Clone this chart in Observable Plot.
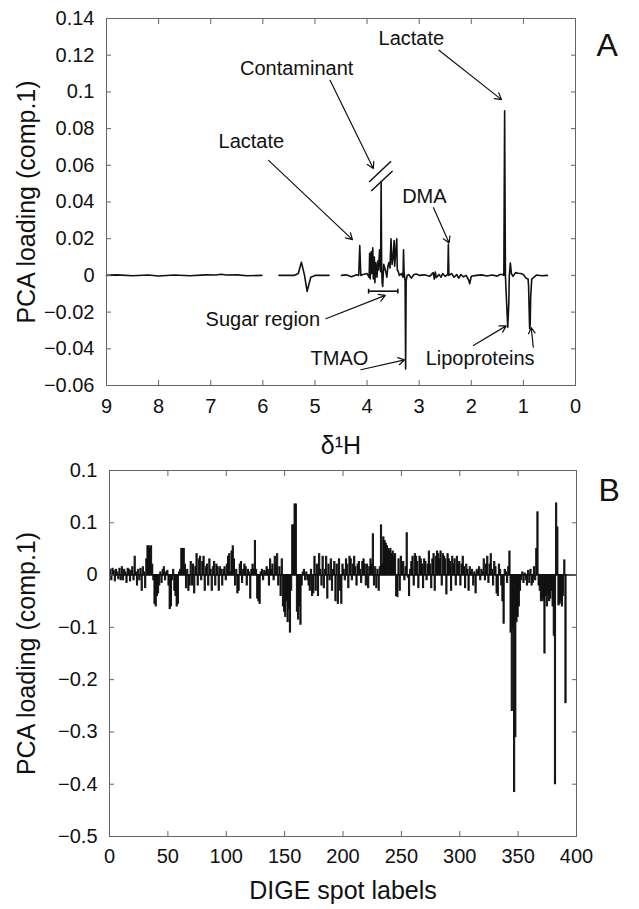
<!DOCTYPE html>
<html>
<head>
<meta charset="utf-8">
<script src="https://cdn.jsdelivr.net/npm/d3@7"></script>
<script src="https://cdn.jsdelivr.net/npm/@observablehq/plot@0.6"></script>
<style>
  html, body { margin: 0; padding: 0; background: #fff; }
  #wrap { width: 639px; height: 909px; position: relative; overflow: hidden; }
  #wrap svg { display: block; }
</style>
</head>
<body>
<div id="wrap"></div>
<script>
// ---------- Panel A: NMR PCA loading (comp.1) ----------
const nmrPpm = [
  9.0, 8.8, 8.5, 8.2, 8.0, 7.7, 7.4, 7.1, 6.9, 6.8, 6.7, 6.5, 6.3, 6.02,
  5.85,
  5.69, 5.4, 5.32, 5.26, 5.2, 5.15, 5.08, 5.0, 4.73,
  4.6,
  4.49, 4.4, 4.3, 4.2, 4.16, 4.14, 4.12, 4.08, 4.0, 3.96, 3.95, 3.94, 3.92, 3.91, 3.89, 3.88,
  3.86, 3.85, 3.83, 3.81, 3.79, 3.78, 3.76, 3.74, 3.73, 3.72, 3.71, 3.70, 3.68, 3.66, 3.64,
  3.62, 3.60, 3.58, 3.56, 3.54, 3.52, 3.50, 3.48, 3.47, 3.45, 3.43, 3.42, 3.40, 3.38, 3.34,
  3.31, 3.30, 3.29, 3.27, 3.26, 3.25, 3.23, 3.2, 3.15, 3.1, 3.05, 3.0, 2.9, 2.8, 2.73, 2.71,
  2.69, 2.67, 2.62, 2.58, 2.55, 2.5, 2.45, 2.44, 2.43, 2.38, 2.33, 2.28, 2.24, 2.2, 2.15, 2.1,
  2.05, 2.03, 2.0, 1.9, 1.8, 1.7, 1.6, 1.5, 1.45, 1.4, 1.375, 1.36, 1.345, 1.33, 1.3, 1.28,
  1.27, 1.25, 1.23, 1.2, 1.15, 1.1, 1.05, 1.0, 0.95, 0.91, 0.9, 0.89, 0.88, 0.87, 0.86, 0.84,
  0.75, 0.65, 0.54
];
const nmrLoading = [
  0, 0.0003, -0.0002, 0.0002, -0.0003, 0.0002, -0.0002, 0.0003, 0.0002, 0.0006, 0.0002, 0.0003, -0.0002, 0,
  NaN,
  0, 0, 0.001, 0.0072, 0.0, -0.0087, -0.001, 0, 0,
  NaN,
  0, 0.0003, -0.0008, 0.0003, 0, 0.0162, 0, 0.0005, 0.001, -0.001, 0.012, -0.002, 0.013, 0.001, 0.015, -0.002,
  0.01, -0.004, 0.007, -0.001, 0.008, 0.003, 0.014, 0.002, 0.0512, 0.004, -0.004, -0.006, 0.006, 0.004, 0.002,
  -0.001, 0.005, 0.007, 0.004, 0.02, 0.006, 0.01, 0.019, 0.005, 0.013, 0.02, 0.003, 0.002, 0.0, 0.001,
  -0.001, 0.014, 0.002, -0.003, -0.051, -0.003, 0, 0.0005, -0.0015, 0.0005, 0.0008, 0, 0.0003, -0.0005, 0.0015, -0.002,
  0.0018, -0.0012, 0.0005, -0.001, 0.001, -0.0005, 0.0005, 0.0169, 0.0, 0.001, -0.001, 0.0005, -0.0015, 0.0005, -0.0008, 0,
  -0.0025, -0.0045, -0.0005, 0, 0.0003, -0.0003, 0.0002, -0.0004, 0.0005, 0.0005, 0.0, 0.0897, 0.0, -0.01, -0.0283, -0.015,
  0, 0.0067, 0.001, -0.0005, 0.0015, 0.0012, 0.001, 0.0005, -0.0015, -0.002, -0.006, -0.018, -0.029, -0.027, -0.012, -0.002,
  0.0002, -0.0002, 0
];

const xTicksA = [9, 8, 7, 6, 5, 4, 3, 2, 1, 0];
const yTicksA = [-0.06, -0.04, -0.02, 0, 0.02, 0.04, 0.06, 0.08, 0.1, 0.12, 0.14];
const yTickLabelsA = ["\u22120.06", "\u22120.04", "\u22120.02", "0", "0.02", "0.04", "0.06", "0.08", "0.1", "0.12", "0.14"];

const annotLabels = ["Lactate", "Contaminant", "Lactate", "DMA", "Sugar region", "TMAO", "Lipoproteins"];
const annotPpm    = [3.15, 5.35, 6.22, 2.90, 6.00, 4.53, 1.83];
const annotValue  = [0.129, 0.1127, 0.0727, 0.0427, -0.0242, -0.0454, -0.0454];

const arrowFromPpm = [2.62, 4.71, 5.89, 2.725, 4.79, 4.12, 1.96, 0.81];
const arrowFromVal = [0.1227, 0.1063, 0.0627, 0.0369, -0.0236, -0.0514, -0.0382, -0.0391];
const arrowToPpm   = [1.42, 3.88, 4.28, 2.425, 3.65, 3.28, 1.33, 0.85];
const arrowToVal   = [0.0958, 0.0582, 0.0195, 0.0176, -0.0109, -0.046, -0.0275, -0.0285];

// axis-break marks on the contaminant peak
const breakFromPpm = [3.96, 3.92];
const breakFromVal = [0.0509, 0.046];
const breakToPpm   = [3.54, 3.51];
const breakToVal   = [0.0622, 0.0569];

// sugar region bar
const sugarFrom = 3.97, sugarTo = 3.41, sugarAt = -0.0086, sugarCap = 0.0013;

// ---------- Panel B: DIGE PCA loading (comp.1) ----------
const digeLoading = [
  0.01, -0.01, 0.012, 0.008, -0.012, 0.01, 0.005, -0.008, 0.012, -0.01,
  0.015, -0.01, 0.01, 0.005, -0.015, 0.012, 0.01, -0.012, 0.008, 0.015,
  -0.01, 0.035, 0.005, -0.02, 0.01, -0.01, 0.012, -0.03, 0.015, 0.005,
  -0.025, 0.03, 0.055, 0.055, 0.05, 0.055, 0.02, -0.01, -0.055, -0.06,
  -0.04, -0.035, -0.02, 0.005, -0.015, 0.01, 0.015, -0.01, 0.005, 0.008,
  -0.02, -0.065, -0.06, -0.01, 0.01, -0.03, -0.04, -0.06, -0.055, 0.005,
  0.01, 0.05, 0.05, 0.05, 0.02, -0.025, 0.01, -0.03, -0.02, 0.025,
  -0.02, 0.02, -0.035, 0.015, 0.04, -0.02, 0.03, 0.035, -0.01, 0.025,
  0.035, -0.03, 0.015, 0.02, -0.02, 0.03, 0.01, -0.03, 0.015, 0.025,
  -0.02, 0.02, 0.015, -0.03, 0.015, 0.01, -0.02, 0.01, 0.015, -0.01,
  0.02, 0.035, 0.04, 0.005, 0.045, 0.055, 0.03, -0.02, 0.01, -0.035,
  -0.03, 0.02, 0.025, -0.015, 0.01, 0.02, 0.015, -0.02, 0.01, 0.005,
  -0.045, 0.01, 0.02, 0.01, 0.065, 0.01, -0.045, -0.05, -0.055, 0.005,
  0.01, -0.01, 0.008, 0.005, 0.015, 0.01, -0.02, 0.03, 0.01, 0.02,
  -0.01, 0.035, 0.02, 0.04, -0.02, 0.015, -0.04, 0.03, -0.06, -0.07,
  -0.08, -0.05, -0.09, -0.065, -0.11, -0.03, 0.095, 0.095, 0.135, 0.135,
  -0.07, -0.085, -0.06, -0.095, -0.02, 0.005, 0.01, -0.01, 0.005, -0.01,
  -0.02, -0.03, 0.01, -0.04, -0.035, 0.035, -0.03, 0.02, -0.04, 0.04,
  0.01, -0.02, 0.035, -0.025, 0.01, 0.035, -0.045, 0.02, -0.01, 0.03,
  -0.03, 0.01, 0.025, -0.05, 0.02, -0.055, 0.03, -0.03, -0.055, 0.02,
  0.01, -0.01, 0.03, 0.02, -0.025, 0.035, 0.03, -0.01, 0.02, 0.035,
  0.015, -0.02, 0.02, 0.025, 0.01, -0.015, 0.025, 0.03, 0.02, -0.02,
  0.02, -0.025, 0.015, 0.03, 0.02, 0.078, -0.02, 0.015, -0.025, 0.01,
  -0.03, 0.015, 0.095, 0.02, 0.072, 0.065, 0.06, 0.055, 0.05, 0.045,
  0.05, 0.04, 0.045, 0.035, 0.04, -0.04, -0.042, 0.03, -0.03, 0.035,
  0.02, 0.025, -0.01, 0.015, 0.08, -0.005, -0.04, 0.01, 0.025, 0.035,
  -0.02, 0.04, 0.035, 0.025, -0.025, 0.035, 0.03, 0.02, -0.025, 0.03,
  0.025, -0.01, 0.02, 0.045, 0.02, -0.025, 0.03, 0.04, -0.03, 0.035,
  0.045, 0.04, 0.03, 0.045, -0.02, 0.04, 0.035, 0.03, -0.037, 0.04,
  0.03, 0.025, -0.03, 0.035, 0.02, 0.03, -0.02, 0.035, 0.02, 0.025,
  -0.02, 0.02, 0.035, 0.015, -0.025, 0.02, 0.01, -0.03, 0.015, 0.005,
  0.01, -0.02, 0.005, -0.035, 0.01, 0.005, 0.015, -0.01, 0.01, 0.005,
  0.03, -0.01, 0.02, 0.035, -0.015, 0.02, 0.04, 0.01, -0.02, 0.025,
  0.015, -0.035, -0.04, 0.02, 0.01, -0.02, -0.05, -0.093, 0.01, 0.005,
  -0.015, 0.015, 0.045, -0.11, -0.26, -0.1, -0.415, -0.31, -0.09, -0.08,
  -0.06, -0.03, -0.01, 0.005, -0.015, 0.003, -0.01, -0.02, 0.008, -0.015,
  0.01, -0.02, -0.015, 0.015, -0.01, 0.05, 0.12, -0.02, -0.03, -0.05,
  -0.045, -0.05, -0.15, -0.04, -0.06, -0.035, -0.05, -0.045, -0.03, -0.06,
  -0.116, -0.4, 0.137, 0.091, -0.058, -0.055, -0.05, -0.06, -0.04, 0.028, -0.245
];
const xTicksB = [0, 50, 100, 150, 200, 250, 300, 350, 400];
const yTicksB = [-0.5, -0.4, -0.3, -0.2, -0.1, 0, 0.1, 0.2];
const yTickLabelsB = ["\u22120.5", "\u22120.4", "\u22120.3", "\u22120.2", "\u22120.1", "0", "0.1", "0.1"];

// ---------- build ----------
const FONT = "'Liberation Sans', Arial, Helvetica, sans-serif";
const INK = "#111";
const BOX = "#666";

const spectrum = nmrPpm.map((p, i) => ({ppm: p, v: nmrLoading[i]}));
const annots = annotLabels.map((t, i) => ({t, x: annotPpm[i], y: annotValue[i]}));
const arrowsA = arrowFromPpm.map((x1, i) => ({x1, y1: arrowFromVal[i], x2: arrowToPpm[i], y2: arrowToVal[i]}));
const breaks = breakFromPpm.map((x1, i) => ({x1, y1: breakFromVal[i], x2: breakToPpm[i], y2: breakToVal[i]}));
const sugarSegs = [
  {x1: sugarFrom, y1: sugarAt, x2: sugarTo, y2: sugarAt},
  {x1: sugarFrom, y1: sugarAt - sugarCap, x2: sugarFrom, y2: sugarAt + sugarCap},
  {x1: sugarTo, y1: sugarAt - sugarCap, x2: sugarTo, y2: sugarAt + sugarCap}
];

function boxAxes(xTicks, yTicks, yLabels, xPad, yPad) {
  return [
    Plot.axisX({anchor: "bottom", ticks: xTicks, tickSize: -5, tickPadding: xPad, tickFormat: d => String(d),
      label: null, stroke: BOX, fill: INK, fontSize: 20}),
    Plot.axisX({anchor: "top", ticks: xTicks, tickSize: -5, tickFormat: () => "", label: null, stroke: BOX}),
    Plot.axisY({anchor: "left", ticks: yTicks, tickSize: -5, tickPadding: yPad,
      tickFormat: d => yLabels[yTicks.indexOf(d)], label: null, stroke: BOX, fill: INK, fontSize: 20}),
    Plot.axisY({anchor: "right", ticks: yTicks, tickSize: -5, tickFormat: () => "", label: null, stroke: BOX}),
    Plot.frame({stroke: BOX})
  ];
}

const chartA = Plot.plot({
  width: 639, height: 460,
  marginLeft: 106, marginRight: 64, marginTop: 18, marginBottom: 75,
  x: {domain: [9, 0]},
  y: {domain: [-0.06, 0.14]},
  style: {fontFamily: FONT, fontSize: "20px", color: INK, background: "white", overflow: "visible"},
  marks: [
    Plot.line(spectrum, {x: "ppm", y: "v", stroke: INK, strokeWidth: 1.6}),
    Plot.link(breaks, {x1: "x1", y1: "y1", x2: "x2", y2: "y2", stroke: INK, strokeWidth: 1.5}),
    Plot.link(sugarSegs, {x1: "x1", y1: "y1", x2: "x2", y2: "y2", stroke: INK, strokeWidth: 1.6}),
    Plot.arrow(arrowsA, {x1: "x1", y1: "y1", x2: "x2", y2: "y2", stroke: INK, strokeWidth: 1.2, headLength: 9}),
    Plot.text(annots, {x: "x", y: "y", text: "t", fontSize: 20, fill: INK}),
    ...boxAxes(xTicksA, yTicksA, yTickLabelsA, 18, 17),
    Plot.text(["\u03B4\u00B9H"], {frameAnchor: "bottom", lineAnchor: "middle", dy: 60, fontSize: 25, fill: INK}),
    Plot.text(["PCA loading (comp.1)"], {frameAnchor: "left", textAnchor: "middle", lineAnchor: "middle", dx: -80, rotate: -90, fontSize: 25, fill: INK}),
    Plot.text(["A"], {frameAnchor: "top-right", dx: 21, dy: 27, textAnchor: "start", lineAnchor: "middle", fontSize: 32, fill: INK})
  ]
});

const bars = digeLoading.map((v, i) => ({spot: i + 1, v}));

const chartB = Plot.plot({
  width: 639, height: 449,
  marginLeft: 109, marginRight: 63, marginTop: 10, marginBottom: 73,
  x: {domain: [0, 400]},
  y: {domain: [-0.5, 0.2]},
  style: {fontFamily: FONT, fontSize: "20px", color: INK, background: "white", overflow: "visible"},
  marks: [
    Plot.rect(bars, {x1: d => d.spot - 0.5, x2: d => d.spot + 0.5, y1: 0, y2: "v", fill: INK, stroke: INK, strokeWidth: 1}),
    Plot.ruleY([0], {stroke: INK, strokeWidth: 1.4}),
    ...boxAxes(xTicksB, yTicksB, yTickLabelsB, 17, 17),
    Plot.text(["DIGE spot labels"], {frameAnchor: "bottom", lineAnchor: "middle", dy: 54, fontSize: 25, fill: INK}),
    Plot.text(["PCA loading (comp.1)"], {frameAnchor: "left", textAnchor: "middle", lineAnchor: "middle", dx: -83, rotate: -90, fontSize: 25, fill: INK}),
    Plot.text(["B"], {frameAnchor: "top-right", dx: 22, dy: 20, textAnchor: "start", lineAnchor: "middle", fontSize: 32, fill: INK})
  ]
});

const wrap = document.getElementById("wrap");
wrap.appendChild(chartA);
wrap.appendChild(chartB);
</script>
</body>
</html>
